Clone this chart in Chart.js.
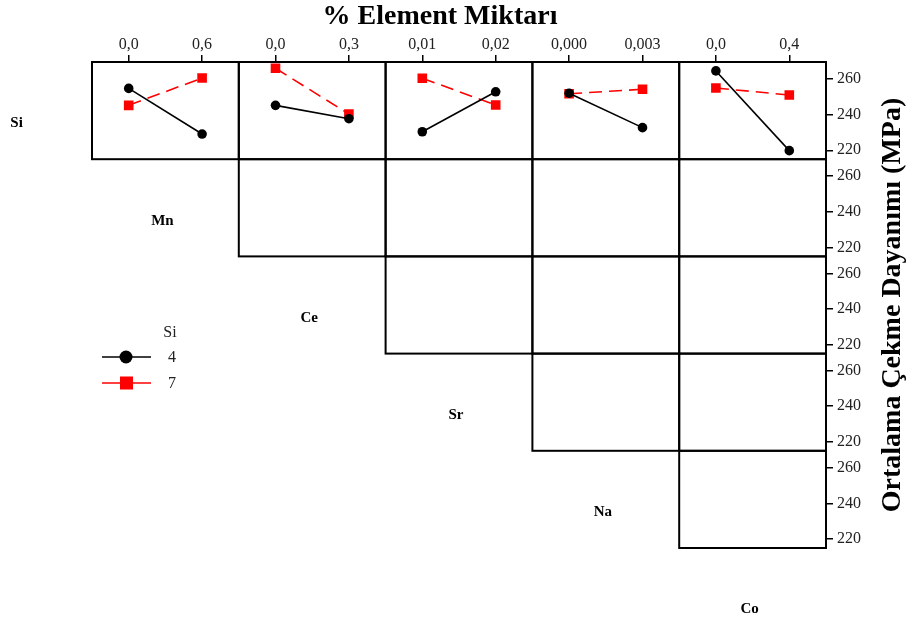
<!DOCTYPE html>
<html>
<head>
<meta charset="utf-8">
<script src="https://cdn.jsdelivr.net/npm/chart.js@4.4.0/dist/chart.umd.min.js"></script>
<style>
    html, body { margin: 0; padding: 0; background: #fff; }
</style>
</head>
<body>
<div>
    <canvas id="myChart" width="907" height="626"></canvas>
</div>

<script>
    // factors on the diagonal, and the ones along the columns
    const rowFactors = ['Si', 'Mn', 'Ce', 'Sr', 'Na', 'Co']
    const mnLevels = ['0,0', '0,6']
    const ceLevels = ['0,0', '0,3']
    const srLevels = ['0,01', '0,02']
    const naLevels = ['0,000', '0,003']
    const coLevels = ['0,0', '0,4']
    const yTicks = [220, 240, 260]

    // mean tensile strength, Si = 4
    const si4Mn = [254.7, 229.1]
    const si4Ce = [245.2, 237.7]
    const si4Sr = [230.4, 252.8]
    const si4Na = [252.0, 232.7]
    const si4Co = [264.5, 219.8]
    // mean tensile strength, Si = 7
    const si7Mn = [245.2, 260.5]
    const si7Ce = [266.0, 240.3]
    const si7Sr = [260.4, 245.4]
    const si7Na = [251.7, 254.2]
    const si7Co = [254.9, 251.0]

    const serif = '"Liberation Serif", "Times New Roman", serif'
    const colLevels = [mnLevels, ceLevels, srLevels, naLevels, coLevels]
    const si4 = [si4Mn, si4Ce, si4Sr, si4Na, si4Co]
    const si7 = [si7Mn, si7Ce, si7Sr, si7Na, si7Co]

    const datasets = []
    si4.forEach((d, i) => datasets.push({
        label: '4', data: d, xAxisID: 'x' + i, yAxisID: 'y0',
        borderColor: '#000', backgroundColor: '#000', borderWidth: 1.6,
        pointStyle: 'circle', pointRadius: 4.8, pointBorderWidth: 0
    }))
    si7.forEach((d, i) => datasets.push({
        label: '7', data: d, xAxisID: 'x' + i, yAxisID: 'y0',
        borderColor: '#ff0000', backgroundColor: '#ff0000', borderWidth: 1.6,
        borderDash: [13, 7],
        pointStyle: 'rect', pointRadius: 6.8, pointBorderWidth: 0
    }))

    const scales = {}
    colLevels.forEach((labels, i) => {
        scales['x' + i] = {
            type: 'category', labels: labels, position: 'top', offset: true,
            stack: 'cols', weight: 10 - i,
            grid: { drawOnChartArea: false, tickLength: 7, color: '#000', lineWidth: 1.5 },
            border: { display: true, color: '#000', width: 2 },
            ticks: { color: '#222', font: { family: serif, size: 16 }, padding: 1, maxRotation: 0, autoSkip: false },
            afterFit: s => { s.height = 26 }
        }
    })
    for (let r = 0; r < 5; r++) {
        scales['y' + r] = {
            type: 'linear', position: 'right', min: 215, max: 269.5,
            stack: 'rows', weight: r + 1,
            afterBuildTicks: s => { s.ticks = yTicks.map(v => ({ value: v })) },
            grid: { drawOnChartArea: false, tickLength: 7, color: '#000', lineWidth: 1.5 },
            border: { display: true, color: '#000', width: 2 },
            ticks: { color: '#222', font: { family: serif, size: 16 }, padding: 4 },
            afterFit: s => { s.width = 45 }
        }
    }

    // boxes of the upper-triangle panels
    const panelBoxes = {
        id: 'panelBoxes',
        beforeDatasetsDraw(chart) {
            const ctx = chart.ctx
            ctx.save()
            ctx.strokeStyle = '#000'
            ctx.lineWidth = 2
            for (let r = 0; r < 5; r++) {
                const ys = chart.scales['y' + r]
                for (let c = r; c < 5; c++) {
                    const xs = chart.scales['x' + c]
                    ctx.strokeRect(xs.left, ys.top, xs.right - xs.left, ys.bottom - ys.top)
                }
            }
            ctx.restore()
        }
    }

    // titles, diagonal factor names and the Si legend
    const labelsPlugin = {
        id: 'labelsPlugin',
        afterDraw(chart) {
            const ctx = chart.ctx
            const area = chart.chartArea
            const colW = (area.right - area.left) / 5
            const rowH = (area.bottom - area.top) / 5
            ctx.save()
            ctx.fillStyle = '#000'
            ctx.textAlign = 'center'
            ctx.textBaseline = 'middle'

            ctx.font = 'bold 28px ' + serif
            ctx.fillText('% Element Miktarı', 440, 17)

            ctx.save()
            ctx.translate(893, 305)
            ctx.rotate(-Math.PI / 2)
            ctx.fillText('Ortalama Çekme Dayanımı (MPa)', 0, 0)
            ctx.restore()

            ctx.font = 'bold 15px ' + serif
            rowFactors.forEach((name, i) => {
                const x = area.left + colW * (i - 0.5) - (i === 0 ? 2 : 3)
                const y = area.top + rowH * (i + 0.5) + 13
                ctx.fillText(name, x, y)
            })

            // legend
            const lx = area.left + 10
            const ly = area.top + 295
            ctx.font = '16px ' + serif
            ctx.fillStyle = '#222'
            ctx.fillText('Si', lx + 68, ly - 24)
            ctx.textAlign = 'left'
            const items = [datasets[0], datasets[5]]
            items.forEach((ds, k) => {
                const y = ly + k * 26
                ctx.strokeStyle = ds.borderColor
                ctx.lineWidth = 1.6
                ctx.beginPath()
                ctx.moveTo(lx, y)
                ctx.lineTo(lx + 49, y)
                ctx.stroke()
                ctx.fillStyle = ds.backgroundColor
                if (ds.pointStyle === 'circle') {
                    ctx.beginPath()
                    ctx.arc(lx + 24, y, 6.5, 0, Math.PI * 2)
                    ctx.fill()
                } else {
                    ctx.fillRect(lx + 18, y - 6.5, 13, 13)
                }
                ctx.fillStyle = '#222'
                ctx.fillText(ds.label, lx + 66, y + 1)
            })
            ctx.restore()
        }
    }

    const ctx = document.getElementById('myChart')
    let chart = new Chart(ctx, {
        type: 'line',
        data: { datasets: datasets },
        options: {
            responsive: false,
            animation: false,
            devicePixelRatio: 1,
            layout: { padding: { left: 92, top: 36, right: 36, bottom: 78 } },
            plugins: { legend: { display: false }, tooltip: { enabled: false } },
            scales: scales
        },
        plugins: [panelBoxes, labelsPlugin]
    })
</script>
</body>
</html>
